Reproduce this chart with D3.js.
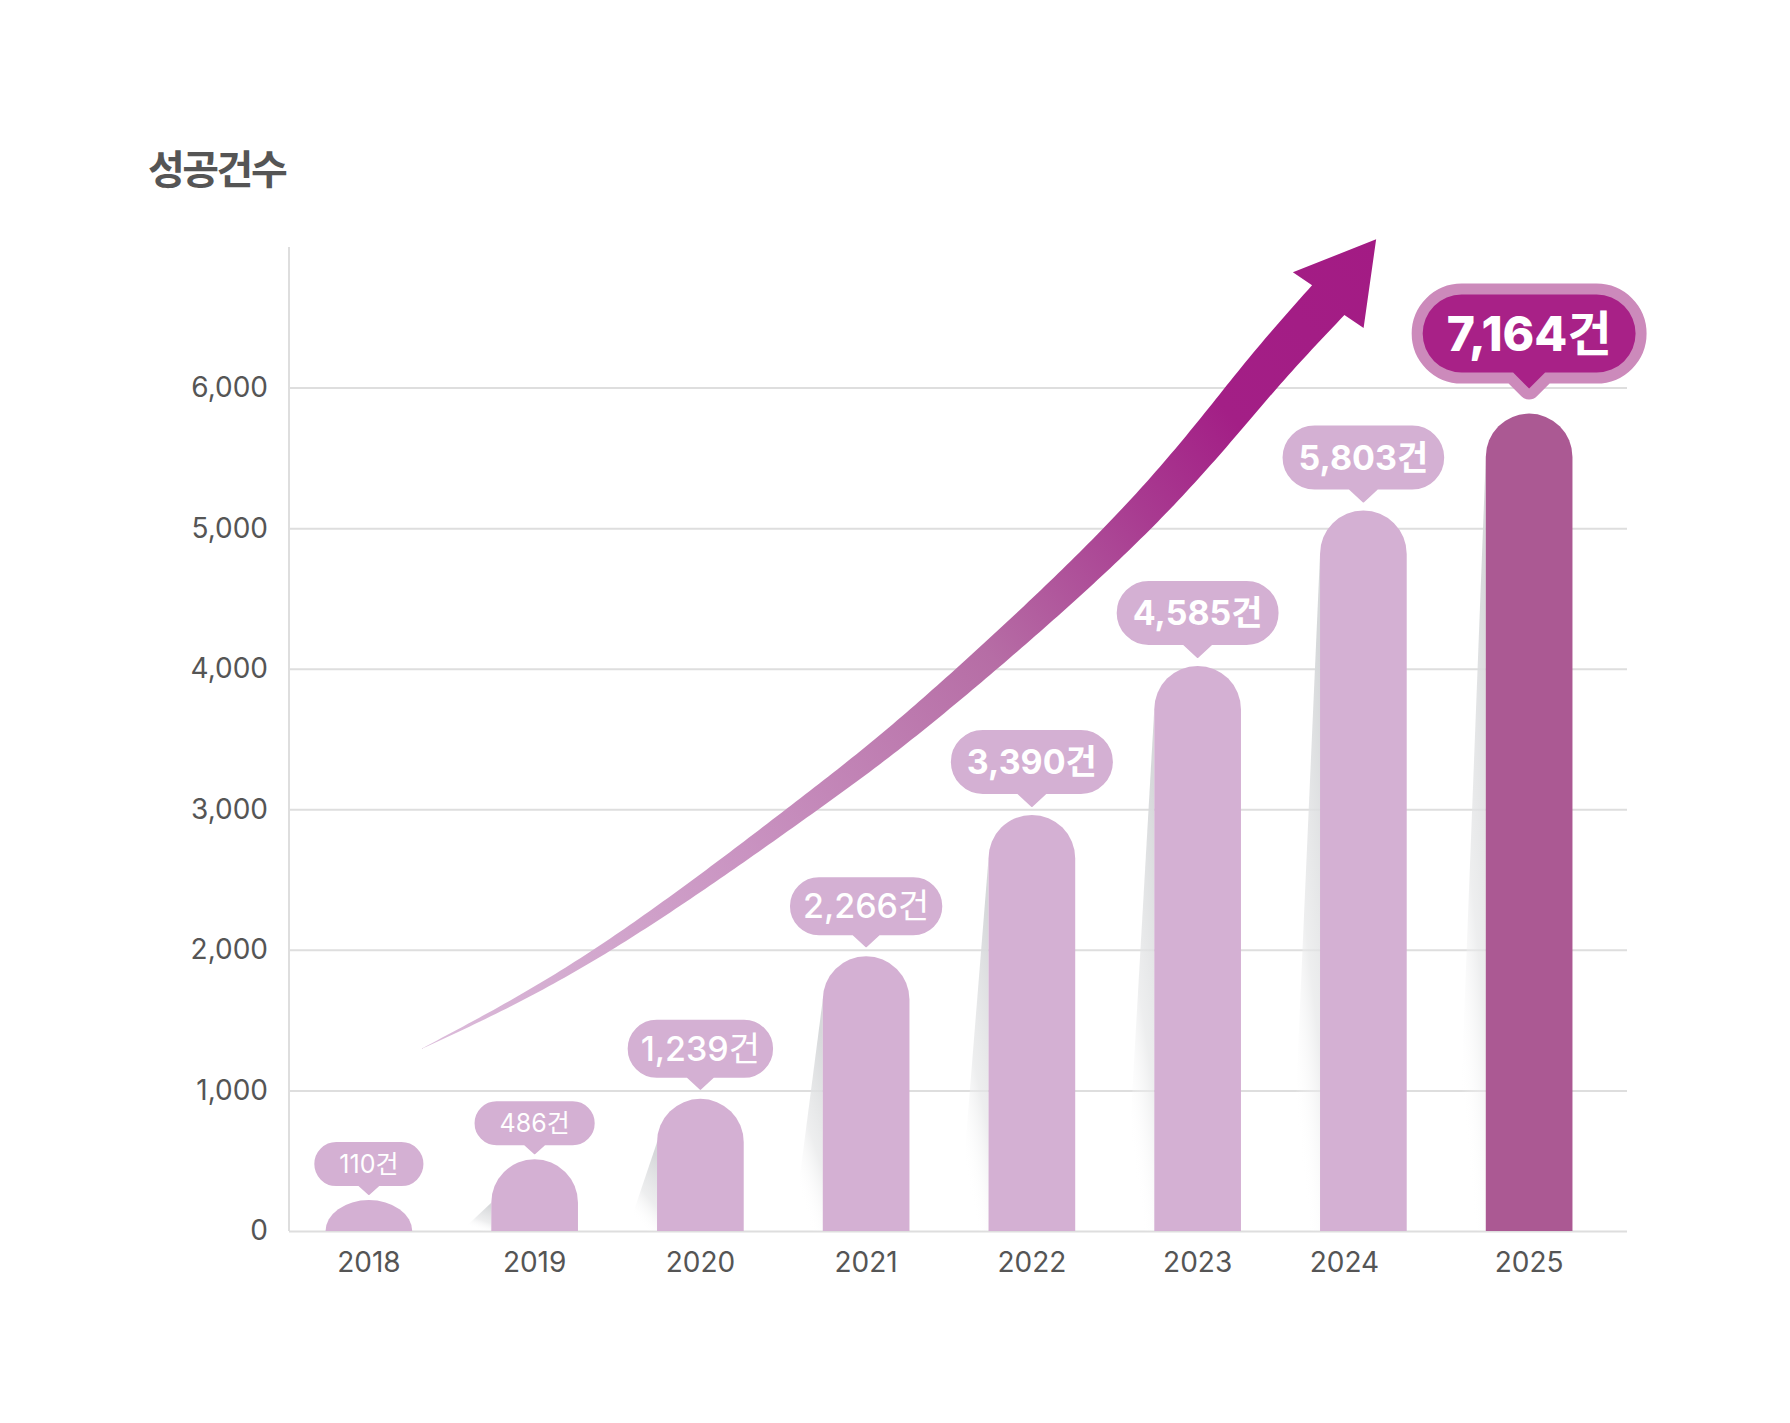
<!DOCTYPE html>
<html>
<head>
<meta charset="utf-8">
<script src="https://cdn.jsdelivr.net/npm/d3@7"></script>
<style>
  body { margin: 0; background: #fff; }
  svg text { font-family: Inter, "Noto Sans CJK KR", sans-serif; }
</style>
</head>
<body>
<div id="chart"></div>
<script>
// Years on the x axis
const years = ['2018', '2019', '2020', '2021', '2022', '2023', '2024', '2025'];
// Bar heights as they are drawn against the y axis
const barValues = [220, 510, 940, 1955, 2960, 4020, 5125, 5815];
// Numbers printed in the callouts above the bars
const labelValues = [110, 486, 1239, 2266, 3390, 4585, 5803, 7164];
const unit = '건';
const yTicks = [0, 1000, 2000, 3000, 4000, 5000, 6000];
const chartTitle = '성공건수';

// Trend arrow, in chart units: [band position (0 = first year), value]
const arrowTrack = [[0.314, 1294], [1.406, 1999], [2.613, 3001], [3.446, 3777],
                    [4.575, 5000], [5.323, 6003], [5.788, 6622]];
const arrowTip = [6.077, 7055];

const width = 1790, height = 1423;
const plotLeft = 289, plotRight = 1627;

const svg = d3.select('#chart').append('svg')
    .attr('width', width)
    .attr('height', height);

const defs = svg.append('defs');

const x = d3.scaleBand()
    .domain(years)
    .range([286, 1612])
    .paddingInner(0.477)
    .paddingOuter(0.2385);

const y = d3.scaleLinear()
    .domain([0, 7000])
    .range([1231, 247]);

// centre of a (fractional) band position
const pos = i => x(years[0]) + x.bandwidth() / 2 + i * x.step();

// Title
svg.append('text')
    .attr('x', 148)
    .attr('y', 184)
    .style('font-family', '"Noto Sans CJK KR", sans-serif')
    .style('font-size', '40px')
    .style('font-weight', 700)
    .style('letter-spacing', '-2.5px')
    .style('fill', '#555')
    .text(chartTitle);

// Gridlines + y labels
const yAxis = svg.append('g')
    .attr('transform', `translate(${plotLeft},0)`)
    .call(d3.axisLeft(y)
        .tickValues(yTicks)
        .tickSize(-(plotRight - plotLeft))
        .tickPadding(21)
        .tickFormat(d3.format(',')));
yAxis.select('.domain').remove();
yAxis.selectAll('.tick line').attr('stroke', '#dedede').attr('stroke-width', 2);
yAxis.selectAll('.tick text')
    .style('font-size', '28px')
    .style('fill', '#555');

svg.append('line')
    .attr('x1', plotLeft).attr('x2', plotLeft)
    .attr('y1', y(7000)).attr('y2', y(0))
    .attr('stroke', '#dedede')
    .attr('stroke-width', 2);

// x labels
const xAxis = svg.append('g')
    .attr('transform', `translate(0,${y(0)})`)
    .call(d3.axisBottom(x).tickSize(0).tickPadding(21));
xAxis.select('.domain').remove();
xAxis.selectAll('.tick text')
    .style('font-size', '28px')
    .style('fill', '#555')
    .attr('dx', d => d === '2024' ? -19 : 0); // the original sets this label a bit left

// Soft shadows to the left of the bars
const shade = defs.append('linearGradient')
    .attr('id', 'shade')
    .attr('x1', 0.6).attr('y1', 0)
    .attr('x2', 0.2).attr('y2', 1);
shade.append('stop').attr('offset', 0).attr('stop-color', '#d6d8da').attr('stop-opacity', 1);
shade.append('stop').attr('offset', 0.5).attr('stop-color', '#e6e7e8').attr('stop-opacity', 0.7);
shade.append('stop').attr('offset', 0.85).attr('stop-color', '#fff').attr('stop-opacity', 0);

const r = x.bandwidth() / 2;

svg.append('g')
    .selectAll('path')
    .data(years.map((yr, i) => ({ yr, v: barValues[i] })).filter((d, i) => i > 0))
    .enter()
    .append('path')
    .attr('d', d => {
        const l = x(d.yr), top = y(d.v) + r, base = y(0);
        return `M${l},${top}L${l},${base}L${l - 30},${base}Z`;
    })
    .attr('fill', 'url(#shade)');

// Trend arrow
const arrowGrad = defs.append('linearGradient')
    .attr('id', 'arrowGrad')
    .attr('gradientUnits', 'userSpaceOnUse')
    .attr('x1', pos(arrowTrack[0][0])).attr('y1', y(arrowTrack[0][1]))
    .attr('x2', pos(arrowTip[0])).attr('y2', y(arrowTip[1]));
[[0, '#dcbddb'], [0.3, '#c993c1'], [0.55, '#b66da5'], [0.72, '#a83a90'], [0.82, '#a31f86'], [1, '#a31b84']]
    .forEach(([o, c]) => arrowGrad.append('stop').attr('offset', o).attr('stop-color', c));

function drawArrow() {
    const track = arrowTrack.map(([i, v]) => [pos(i), y(v)]);
    const guide = svg.append('path')
        .attr('d', d3.line().curve(d3.curveNatural)(track))
        .attr('fill', 'none');
    const node = guide.node();
    const L = node.getTotalLength();
    // shaft grows from a hairline to full width at the head
    const widthAt = t => 44 * Math.pow(t, 0.85);

    const upper = [], lower = [];
    const N = 200;
    for (let k = 0; k <= N; k++) {
        const s = k / N * L;
        const p = node.getPointAtLength(s);
        const a = node.getPointAtLength(Math.max(0, s - 2));
        const b = node.getPointAtLength(Math.min(L, s + 2));
        const len = Math.hypot(b.x - a.x, b.y - a.y);
        const nx = -(b.y - a.y) / len, ny = (b.x - a.x) / len;
        const w = widthAt(k / N) / 2;
        upper.push([p.x - nx * w, p.y - ny * w]);
        lower.push([p.x + nx * w, p.y + ny * w]);
    }
    guide.remove();

    // arrow head
    const base = track[track.length - 1];
    const tip = [pos(arrowTip[0]), y(arrowTip[1])];
    const dl = Math.hypot(tip[0] - base[0], tip[1] - base[1]);
    const dx = (tip[0] - base[0]) / dl, dy = (tip[1] - base[1]) / dl;
    const hx = -dy, hy = dx;
    const half = 45;
    const barbA = [base[0] - hx * half, base[1] - hy * half];
    const barbB = [base[0] + hx * half, base[1] + hy * half];

    const pts = upper.concat([barbA, tip, barbB], lower.reverse());
    svg.append('path')
        .attr('d', 'M' + pts.map(p => p.join(',')).join('L') + 'Z')
        .attr('fill', 'url(#arrowGrad)');
}
drawArrow();

// Bars with rounded tops
svg.append('g')
    .selectAll('path')
    .data(years.map((yr, i) => ({ yr, v: barValues[i], i })))
    .enter()
    .append('path')
    .attr('d', d => {
        const l = x(d.yr), rt = l + x.bandwidth();
        const top = y(d.v), base = y(0);
        const ry = Math.min(r, base - top);
        return `M${l},${base}L${l},${top + ry}A${r},${ry} 0 0 1 ${rt},${top + ry}L${rt},${base}Z`;
    })
    .attr('fill', d => d.i === years.length - 1 ? '#ab5993' : '#d4b0d3');

// Callout bubbles
function tierOf(i) {
    if (i < 2) return { fs: 25, w: 400, h: 42, pad: 24, pw: 20, ph: 9, gap: 6 };
    if (i < 4) return { fs: 34, w: 500, h: 56, pad: 12, pw: 26, ph: 12, gap: 10 };
    if (i < 7) return { fs: 34, w: 700, h: 62, pad: 15, pw: 28, ph: 13, gap: 9 };
    return { fs: 48, w: 800, h: 78, pad: 24, pw: 32, ph: 16, gap: 25, feature: true };
}

const fmt = d3.format(',');

const bubbles = svg.append('g')
    .selectAll('g')
    .data(years.map((yr, i) => ({ yr, v: barValues[i], label: labelValues[i], i })))
    .enter()
    .append('g');

bubbles.each(function(d) {
    const g = d3.select(this);
    const t = tierOf(d.i);
    const cx = x(d.yr) + x.bandwidth() / 2;
    const tipY = y(d.v) - t.gap;
    const bottom = tipY - t.ph;
    const top = bottom - t.h;

    const txt = g.append('text')
        .attr('x', cx)
        .attr('y', top + t.h / 2 + 0.36 * t.fs)
        .attr('text-anchor', 'middle')
        .style('font-size', t.fs + 'px')
        .style('fill', '#fff');
    txt.append('tspan').style('font-weight', t.w).text(fmt(d.label));
    txt.append('tspan').style('font-weight', Math.max(400, t.w - 100)).text(unit);

    const w = txt.node().getComputedTextLength() + 2 * t.pad;
    const rr = t.h / 2, l = cx - w / 2, rt = cx + w / 2;
    const path = `M${l + rr},${top}L${rt - rr},${top}A${rr},${rr} 0 0 1 ${rt - rr},${bottom}` +
        `L${cx + t.pw / 2},${bottom}L${cx},${tipY}L${cx - t.pw / 2},${bottom}` +
        `L${l + rr},${bottom}A${rr},${rr} 0 0 1 ${l + rr},${top}Z`;

    g.insert('path', 'text')
        .attr('d', path)
        .attr('fill', t.feature ? '#a82187' : '#d4b0d3')
        .attr('stroke', t.feature ? '#cc8abb' : '#d4b0d3')
        .attr('stroke-width', t.feature ? 22 : 2)
        .attr('stroke-linejoin', 'round')
        .style('paint-order', 'stroke');
});
</script>
</body>
</html>
